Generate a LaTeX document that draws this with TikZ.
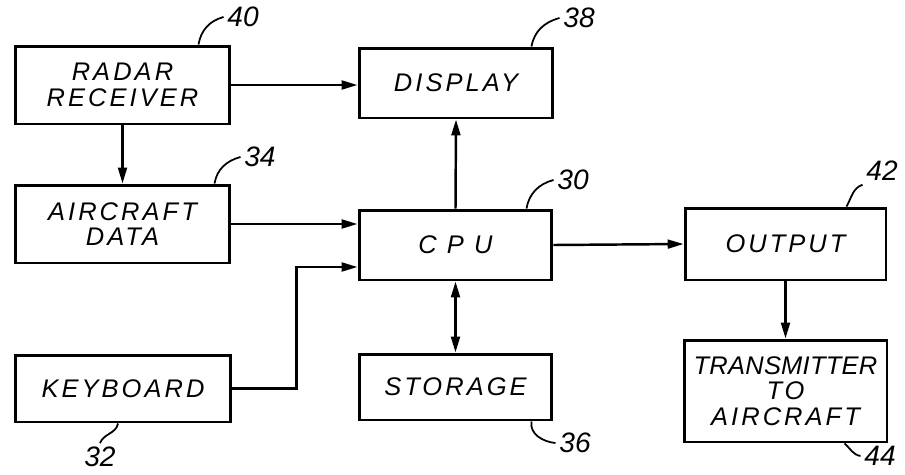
\documentclass[tikz,border=0pt]{standalone}
\usepackage{fontspec}
\newfontfamily\handfont{Liberation Sans}[LetterSpace=12]
\newfontfamily\tagfont{Liberation Sans}
\usetikzlibrary{arrows.meta}
\begin{document}
\begin{tikzpicture}[x=0.02cm,y=-0.02cm,
  >={Triangle[length=9pt,width=5pt]},
  blok/.style 2 args={draw,line width=1.7pt,inner sep=0pt,align=center,
    minimum width=#1,minimum height=#2,
    font=\handfont\itshape\fontsize{14.5}{14.5}\selectfont},
  flow/.style={line width=1.4pt,->},
  tag/.style={font=\tagfont\itshape\fontsize{16}{16}\selectfont,inner sep=2pt},
  lead/.style={line width=1pt}]
\useasboundingbox (0,0) rectangle (905,474);
\node[blok={4.3cm}{1.56cm}] (radar) at (122.5,85) {RADAR\\RECEIVER};
\node[blok={4.3cm}{1.56cm}] (acdata) at (122.5,224) {AIRCRAFT\\DATA};
\node[blok={4.32cm}{1.34cm}] (keybd) at (123,388.5) {KEYBOARD};
\node[blok={3.88cm}{1.4cm}] (disp) at (456,83) {DISPLAY};
\node[blok={3.86cm}{1.4cm}] (cpu) at (455.5,245) {C P U};
\node[blok={3.86cm}{1.32cm}] (stor) at (455.5,387) {STORAGE};
\node[blok={4.02cm}{1.44cm}] (outp) at (785.5,244) {OUTPUT};
\node[blok={4.06cm}{2.04cm}] (xmit) at (785.5,391) {{\addfontfeature{LetterSpace=1}TRANSMITTER}\\TO\\AIRCRAFT};
\node[tag] (n40) at (243,17) {40};
\node[tag] (n34) at (260,157) {34};
\node[tag] (n38) at (579,18) {38};
\node[tag] (n30) at (573,180) {30};
\node[tag] (n42) at (882,171) {42};
\node[tag] (n32) at (100,457) {32};
\node[tag] (n36) at (575,443) {36};
\node[tag] (n44) at (880,456) {44};
\draw[flow] (radar.east) -- (radar.east -| disp.west);
\draw[flow] (radar.south) -- (acdata.north);
\draw[flow] (acdata.east) -- (acdata.east -| cpu.west);
\draw[flow] (keybd.east) -- ++(64,0) |- ([yshift=-0.44cm]cpu.west);
\draw[flow] (cpu.north) -- (disp.south);
\draw[flow,<->] (cpu.south) -- (stor.north);
\draw[flow] (cpu.east) -- (outp.west);
\draw[flow] (outp.south) -- (xmit.north);
\draw[lead] (radar.north east) ++(-33,0) to[out=80,in=195] (n40.west);
\draw[lead] (acdata.north east) ++(-17,0) to[out=80,in=195] (n34.west);
\draw[lead] (disp.north east) ++(-23,0) to[out=80,in=195] (n38.west);
\draw[lead] (cpu.north east) ++(-27,0) to[out=80,in=195] (n30.west);
\draw[lead] (outp.north east) ++(-41,0) to[out=60,in=200] (n42.south west);
\draw[lead] (keybd.south) ++(-5,0) to[out=-100,in=70] (n32.north);
\draw[lead] (stor.south east) ++(-22,0) to[out=-100,in=175] (n36.west);
\draw[lead] (xmit.south east) ++(-44,0) to[out=-40,in=170] (n44.west);
\end{tikzpicture}
\end{document}
